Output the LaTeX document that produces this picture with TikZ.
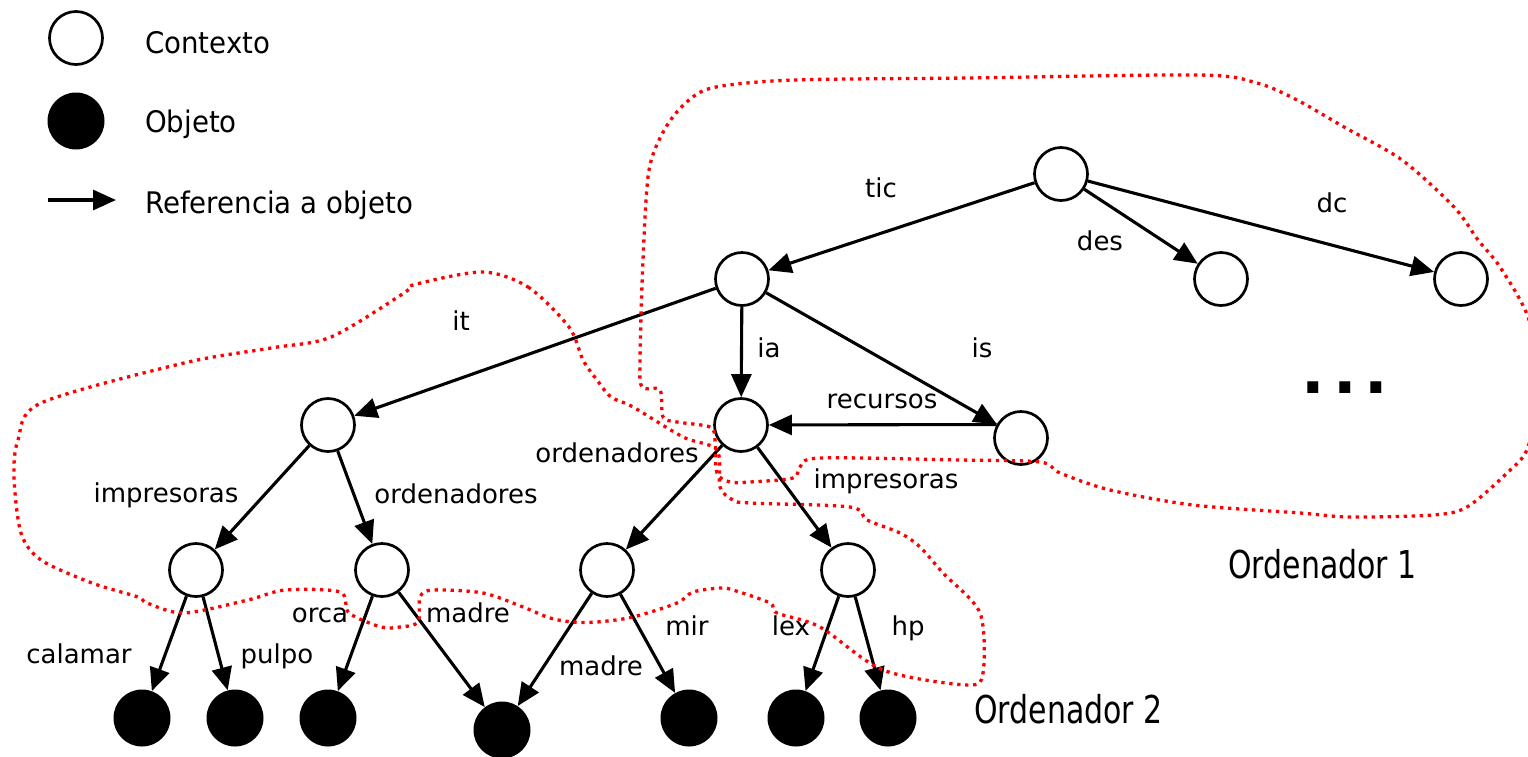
\documentclass[tikz,border=0pt]{standalone}
\usepackage{fontspec}
\setmainfont{DejaVu Sans}
\newfontfamily\legfont[FakeStretch=0.93]{DejaVu Sans}
\newfontfamily\ordfont[FakeStretch=0.78]{DejaVu Sans}
\usetikzlibrary{arrows.meta}
\begin{document}
\begin{tikzpicture}[x=1pt,y=-1pt,
  ctx/.style={circle, draw, line width=2.7pt, minimum size=53pt, inner sep=0pt, fill=white},
  obj/.style={circle, fill=black, minimum size=57pt, inner sep=0pt},
  ref/.style={line width=3.1pt, -{Triangle[length=23pt,width=20pt]}},
  lbl/.style={anchor=base, inner sep=0pt, font=\fontsize{26}{30}\selectfont},
  leg/.style={anchor=base west, inner sep=0pt, font=\legfont\fontsize{29.7}{34}\selectfont},
  ordl/.style={anchor=base west, inner sep=0pt, font=\ordfont\fontsize{38.4}{44}\selectfont},
  grp/.style={red, line width=3.3pt, dash pattern=on 3.3pt off 4.7pt}]
\useasboundingbox (0,0) rectangle (1528,756);
\clip (0,0) rectangle (1528,756);
% legend
\node[ctx] (lc) at (76,38) {};
\node[obj] (lo) at (76,121) {};
\coordinate (la1) at (48,200);
\coordinate (la2) at (116,200);
\draw[ref] (la1) -- (la2);
\node[leg] (tc) at (145,53) {Contexto};
\node[leg] (to) at (145,132) {Objeto};
\node[leg] (tr) at (145,213) {Referencia a objeto};
% tree nodes
\node[ctx] (R) at (1061,174) {};
\node[ctx] (A) at (742,279) {};
\node[ctx] (Des) at (1221,279) {};
\node[ctx] (Dc) at (1461,279) {};
\node[ctx] (B) at (328,425) {};
\node[ctx] (C) at (741,425) {};
\node[ctx] (D) at (1021,438) {};
\node[ctx] (B1) at (196,570) {};
\node[ctx] (B2) at (382,570) {};
\node[ctx] (C1) at (607,570) {};
\node[ctx] (C2) at (848,570) {};
\node[obj] (L1) at (142,718) {};
\node[obj] (L2) at (235,718) {};
\node[obj] (L3) at (328,718) {};
\node[obj] (L4) at (502,730) {};
\node[obj] (L5) at (689,718) {};
\node[obj] (L6) at (796,718) {};
\node[obj] (L7) at (888,718) {};
% edges
\draw[ref] (R) -- (A);
\draw[ref] (R) -- (Des);
\draw[ref] (R) -- (Dc);
\draw[ref] (A) -- (B);
\draw[ref] (A) -- (C);
\draw[ref] (A) -- (D);
\draw[ref] (D.151) -- (C);
\draw[ref] (B) -- (B1);
\draw[ref] (B) -- (B2);
\draw[ref] (C) -- (C1);
\draw[ref] (C) -- (C2);
\draw[ref] (B1) -- (L1);
\draw[ref] (B1) -- (L2);
\draw[ref] (B2) -- (L3);
\draw[ref] (B2) -- (L4);
\draw[ref] (C1) -- (L4);
\draw[ref] (C1) -- (L5);
\draw[ref] (C2) -- (L6);
\draw[ref] (C2) -- (L7);
% labels
\node[lbl] (ltic) at (881,197) {tic};
\node[lbl] (ldes) at (1100,250) {des};
\node[lbl] (ldc) at (1332,212) {dc};
\node[lbl] (lit) at (461,330) {it};
\node[lbl] (lia) at (769,357) {ia};
\node[lbl] (lis) at (982,357) {is};
\node[lbl] (lrec) at (882,408) {recursos};
\node[lbl] (limp1) at (166,502) {impresoras};
\node[lbl] (lord1) at (456,503) {ordenadores};
\node[lbl] (lord2) at (617,462) {ordenadores};
\node[lbl] (limp2) at (886,488) {impresoras};
\node[lbl] (lcal) at (79,663) {calamar};
\node[lbl] (lpul) at (277,663) {pulpo};
\node[lbl] (lorc) at (320,622) {orca};
\node[lbl] (lmad1) at (468,622) {madre};
\node[lbl] (lmad2) at (601,675) {madre};
\node[lbl] (lmir) at (687,635) {mir};
\node[lbl] (llex) at (791,635) {lex};
\node[lbl] (lhp) at (908,635) {hp};
\node[anchor=base, inner sep=0pt, font=\fontsize{62}{70}\selectfont\bfseries] (dots) at (1345,393) {.\kern8pt.\kern8pt.};
\node[ordl] (o1) at (1228,578) {Ordenador 1};
\node[ordl] (o2) at (974,723) {Ordenador 2};
% groups
\draw[grp] plot[smooth cycle, tension=0.5] coordinates {
 (716,87) (794,80) (967,78) (1199,75) (1257,83) (1297,100) (1344,127) (1402,160)
 (1454,207) (1478,240) (1500,267) (1528,317) (1540,380) (1528,447) (1507,473)
 (1467,507) (1433,515) (1350,517) (1300,513) (1193,505) (1110,490) (1060,473)
 (1040,462) (960,460) (820,458) (800,467) (793,478) (750,482) (730,482) (717,473)
 (715,440) (710,427) (677,422) (663,417) (660,390) (642,387) (640,360) (643,260)
 (649,170) (666,127) (689,100)};
\draw[grp] plot[smooth cycle, tension=0.5] coordinates {
 (482,272) (528,287) (569,327) (583,360) (597,380) (611,397) (633,407) (683,437)
 (717,450) (720,487) (733,500) (750,503) (850,507) (867,520) (900,533) (920,547)
 (943,573) (980,613) (983,673) (967,685) (883,670) (820,627) (777,613) (770,603)
 (733,590) (720,588) (693,592) (677,603) (633,617) (597,622) (573,622) (550,618)
 (523,607) (483,593) (433,590) (420,597) (418,622) (400,627) (381,627) (349,613)
 (340,592) (285,590) (248,600) (184,613) (147,603) (138,597) (92,583) (41,560)
 (21,533) (14,477) (18,440) (41,403) (184,363) (271,348) (331,337) (404,293)
 (413,285)};
\end{tikzpicture}
\end{document}
